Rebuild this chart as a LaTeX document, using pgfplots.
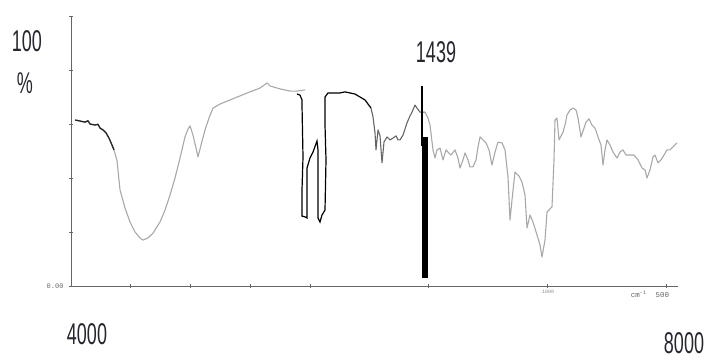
\documentclass[border=0pt]{standalone}
\usepackage{pgfplots}
\pgfplotsset{compat=1.18}
\usepackage{graphicx}
\usepackage{fontspec}
\setmainfont{Liberation Sans}
\newfontfamily\monofont{Liberation Mono}
\definecolor{specgray}{HTML}{A8A8A8}
\definecolor{txtdark}{HTML}{262630}
\newcommand\lbl[1]{\scalebox{0.6}[1]{\fontsize{30}{30}\selectfont #1}}
\begin{document}
\begin{tikzpicture}
\useasboundingbox (0,0) rectangle (709pt,359pt);
\begin{axis}[
  at={(71pt,73pt)}, anchor=south west,
  scale only axis, width=607pt, height=270pt,
  xmin=71, xmax=678, ymin=0, ymax=100,
  axis x line=bottom, axis y line=left,
  axis line style={-, draw=black!60, line width=1pt},
  ytick={0,20,40,60,80,100}, yticklabels={},
  xtick={130,190,250,310,428,547,666}, xticklabels={},
  tick align=center, major tick length=4pt,
  tick style={black!60, line width=0.8pt},
  clip=false,
]
% gray main curve
\addplot[specgray, line width=1.1pt, line join=round] coordinates {
(114,50.4)(117,46.5)(120,35.6)(125,28.9)(130,23.7)(135,20.0)(140,17.8)(143,17.0)(148,17.8)(153,19.6)
(160,23.7)(165,28.1)(170,33.7)(175,40.0)(180,47.4)(185,55.2)(188,58.1)(190,59.3)(193,55.9)(196,51.1)
(198,47.8)(201,52.2)(205,57.8)(209,62.2)(213,65.9)(220,67.4)(230,68.9)(240,70.4)(250,71.9)(260,73.3)
(267,75.2)(270,74.1)(280,73.0)(290,72.2)(297,72.2)(305,72.6)};
% black noisy start
\addplot[black!85, line width=1.4pt, line join=round] coordinates {
(75,61.5)(80,61.1)(85,60.7)(88,61.2)(90,60.0)(95,59.6)(98,59.9)(100,58.5)(103,57.8)(106,56.7)(109,54.8)(112,52.2)(114,50.4)};
% black bands
\addplot[black, line width=1.2pt, line join=miter] coordinates {
(297,71.1)(300,70.7)(302,68.9)(302,67.0)(303,47.8)(302,35.6)(302,25.9)(305,25.6)(307,25.2)(307,43.7)
(310,47.4)(313,49.6)(317,53.7)(318,50.4)(318,25.2)(320,23.7)(322,26.3)(325,28.1)(326,46.7)(325,59.6)
(325,70.0)(328,71.5)(340,71.5)(345,71.9)(350,71.5)(355,71.1)(360,70.0)(365,68.9)(368,67.4)(371,65.9)};
% dark gray region
\addplot[black!60, line width=1.1pt, line join=round] coordinates {
(371,65.9)(373,62.6)(375,56.7)(376,50.4)(377,54.1)(378,57.8)(380,55.6)(382,45.6)(384,53.3)(387,55.2)
(390,54.1)(393,54.8)(396,55.6)(398,54.1)(400,54.1)(403,55.9)(407,60.4)(410,63.0)(412,64.4)(415,67.0)
(417,65.9)(420,64.4)(425,64.4)};
% spike at 1439
\addplot[black, line width=2pt] coordinates {(422,74.1)(422,52)};
\addplot[black, line width=5.5pt] coordinates {(425,55)(425,3.0)};
% gray right part
\addplot[specgray, line width=1.1pt, line join=round] coordinates {
(425,64.4)(428,62.2)(430,59.6)(433,50.4)(435,47.4)(437,50.4)(440,51.1)(443,46.7)(446,50.4)(448,49.6)
(451,48.5)(455,50.4)(458,47.4)(460,43.7)(463,46.7)(465,49.3)(468,46.7)(470,44.1)(473,44.1)(476,46.7)
(478,51.5)(480,55.2)(483,54.1)(486,53.0)(489,50.4)(492,44.8)(495,49.6)(498,53.3)(502,53.0)(505,50.4)
(508,40.4)(510,24.4)(512,31.9)(515,42.2)(519,40.7)(522,38.5)(525,33.7)(527,21.5)(530,26.3)(533,23.7)
(537,18.9)(540,15.2)(542,10.7)(545,17.0)(547,27.4)(552,29.3)(554,46.7)(555,61.5)(557,62.2)(559,54.1)
(563,57.0)(565,59.6)(567,63.3)(570,65.2)(573,65.9)(576,65.2)(578,62.2)(581,55.2)(584,58.5)(586,60.7)
(589,61.9)(592,59.6)(595,58.5)(598,55.2)(601,52.2)(603,44.8)(605,50.4)(607,54.1)(610,52.2)(613,49.6)
(617,47.4)(620,49.6)(623,50.4)(626,48.5)(630,48.5)(634,48.5)(638,46.7)(642,43.7)(645,43.0)(647,40.0)
(650,43.0)(653,47.8)(655,48.5)(658,45.6)(661,46.7)(664,48.5)(667,50.4)(670,50.4)(673,51.5)(677,53.0)};
\end{axis}
% texts
\node[txtdark] at (27pt,318pt) {\lbl{100}};
\node[txtdark] at (25pt,276pt) {\lbl{\%}};
\node[txtdark] at (436pt,307pt) {\lbl{1439}};
\node[txtdark] at (87pt,25pt) {\lbl{4000}};
\node[txtdark] at (684pt,16pt) {\lbl{8000}};
\node[black!60, font=\monofont\fontsize{7}{7}\selectfont, anchor=east] at (67pt,73pt) {0.00};
\node[black!60, font=\monofont\fontsize{7.5}{8}\selectfont] at (650pt,65pt) {cm\textsuperscript{-1}\ \ 500};
\node[black!45, font=\monofont\fontsize{5}{5}\selectfont] at (548pt,67pt) {1000};
\end{tikzpicture}
\end{document}
